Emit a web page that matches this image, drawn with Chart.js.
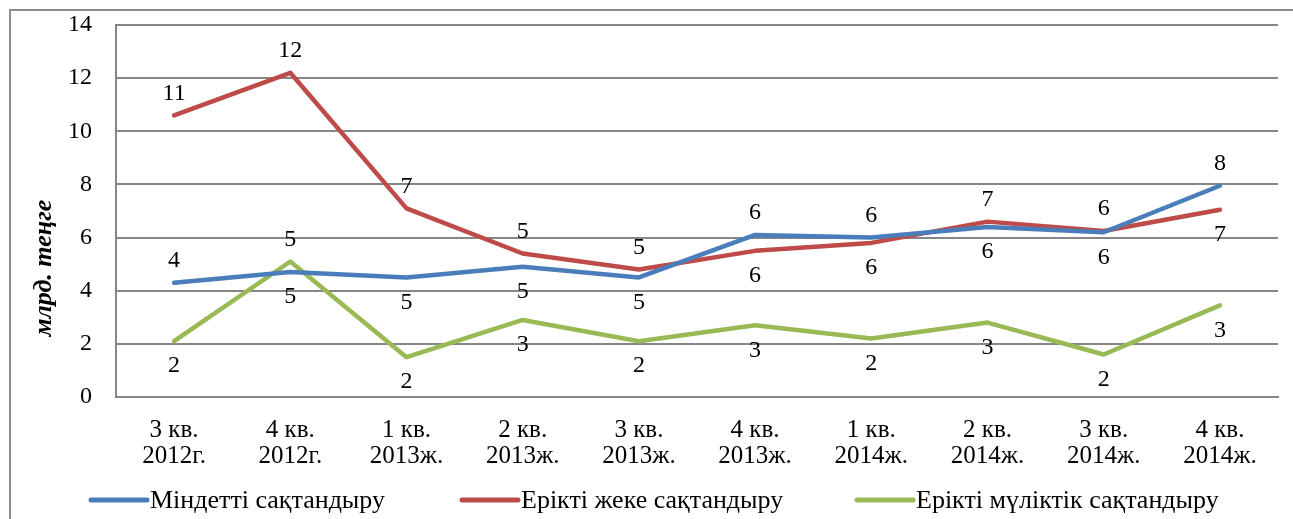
<!DOCTYPE html>
<html>
<head>
<meta charset="utf-8">
<script src="https://cdn.jsdelivr.net/npm/chart.js@4.4.0/dist/chart.umd.min.js"></script>
<style>
    html, body { margin: 0; padding: 0; background: #fff; }
    #wrap { position: relative; width: 1293px; height: 519px; }
    #frame {
        position: absolute; left: 9px; top: 9px; right: 0; bottom: 0;
        border-left: 2px solid #8c8c8c; border-top: 2px solid #8c8c8c;
        pointer-events: none;
    }
</style>
</head>
<body>
<div id="wrap">
    <canvas id="chart" width="1293" height="519"></canvas>
    <div id="frame"></div>
</div>
<script>
// === DATA ===
const categories = [
    ['3 кв.', '2012г.'], ['4 кв.', '2012г.'], ['1 кв.', '2013ж.'], ['2 кв.', '2013ж.'],
    ['3 кв.', '2013ж.'], ['4 кв.', '2013ж.'], ['1 кв.', '2014ж.'], ['2 кв.', '2014ж.'],
    ['3 кв.', '2014ж.'], ['4 кв.', '2014ж.']
];
const seriesNames = ['Міндетті сақтандыру', 'Ерікті жеке сақтандыру', 'Ерікті мүліктік сақтандыру'];
const mandatory = [4.3, 4.7, 4.5, 4.9, 4.5, 6.1, 6.0, 6.4, 6.2, 7.95];
const voluntaryPersonal = [10.6, 12.2, 7.1, 5.4, 4.8, 5.5, 5.8, 6.6, 6.25, 7.05];
const voluntaryProperty = [2.1, 5.1, 1.5, 2.9, 2.1, 2.7, 2.2, 2.8, 1.6, 3.45];
const yTicks = [0, 2, 4, 6, 8, 10, 12, 14];
const yTitle = 'млрд. теңге';

// label side per point: 1 = above, -1 = below
const labelSide = [
    [1, -1, -1, -1, -1, 1, 1, -1, -1, 1],
    [1, 1, 1, 1, 1, -1, -1, 1, 1, -1],
    [-1, 1, -1, -1, -1, -1, -1, -1, -1, -1]
];

const colors = ['#4a7ebb', '#be4b48', '#98b954'];
const FONT = '"Liberation Serif", "Times New Roman", serif';

// === PLUGINS ===
const labelsPlugin = {
    id: 'pointLabels',
    afterDatasetsDraw(chart) {
        const ctx = chart.ctx;
        ctx.save();
        ctx.font = '24px ' + FONT;
        ctx.fillStyle = '#000';
        ctx.textAlign = 'center';
        ctx.textBaseline = 'middle';
        chart.data.datasets.forEach((ds, di) => {
            const meta = chart.getDatasetMeta(di);
            meta.data.forEach((pt, i) => {
                const side = labelSide[di][i];
                const dy = side > 0 ? -22 : 25;
                ctx.fillText(Math.round(ds.data[i]).toString(), pt.x, pt.y + dy);
            });
        });
        ctx.restore();
    }
};

const extrasPlugin = {
    id: 'extras',
    afterDraw(chart) {
        const ctx = chart.ctx;
        ctx.save();
        // y axis title
        ctx.font = 'italic bold 26px ' + FONT;
        ctx.fillStyle = '#000';
        ctx.textAlign = 'center';
        ctx.textBaseline = 'middle';
        ctx.translate(44, 268);
        ctx.rotate(-Math.PI / 2);
        ctx.fillText(yTitle, 0, 0);
        ctx.restore();

        // legend
        ctx.save();
        ctx.font = '26px ' + FONT;
        ctx.textBaseline = 'middle';
        const starts = [89, 460, 855];
        const ly = 500;
        chart.data.datasets.forEach((ds, di) => {
            const x = starts[di];
            ctx.strokeStyle = ds.borderColor;
            ctx.lineWidth = 5;
            ctx.lineCap = 'round';
            ctx.beginPath();
            ctx.moveTo(x + 2, ly);
            ctx.lineTo(x + 58, ly);
            ctx.stroke();
            ctx.fillStyle = '#000';
            ctx.fillText(ds.label, x + 61, ly + 1);
        });
        ctx.restore();
    }
};

// === CHART ===
const datasets = [mandatory, voluntaryPersonal, voluntaryProperty].map((vals, i) => ({
    label: seriesNames[i],
    data: vals,
    borderColor: colors[i],
    backgroundColor: colors[i],
    borderWidth: 4.5,
    pointRadius: 0,
    tension: 0,
    borderCapStyle: 'round',
    borderJoinStyle: 'round'
}));

new Chart(document.getElementById('chart'), {
    type: 'line',
    data: { labels: categories, datasets: datasets },
    options: {
        responsive: false,
        animation: false,
        layout: { padding: { left: 0, top: 25, right: 15, bottom: 0 } },
        plugins: { legend: { display: false }, tooltip: { enabled: false } },
        scales: {
            x: {
                offset: true,
                grid: { display: false, drawTicks: false },
                border: { display: true, color: '#868686', width: 2 },
                ticks: {
                    color: '#000', padding: 20, maxRotation: 0, autoSkip: false,
                    font: { family: FONT, size: 25, lineHeight: 1.04 }
                },
                afterFit(scale) { scale.height = 122; }
            },
            y: {
                min: 0, max: 14,
                afterBuildTicks(scale) { scale.ticks = yTicks.map(v => ({ value: v })); },
                grid: { color: '#868686', lineWidth: 2, drawTicks: false },
                border: { display: true, color: '#868686', width: 2 },
                ticks: {
                    color: '#000', padding: 24,
                    font: { family: FONT, size: 24 }
                },
                afterFit(scale) {
                    scale.width = 116;
                    scale.paddingTop = 0;
                    scale.paddingBottom = 0;
                }
            }
        }
    },
    plugins: [labelsPlugin, extrasPlugin]
});
</script>
</body>
</html>
